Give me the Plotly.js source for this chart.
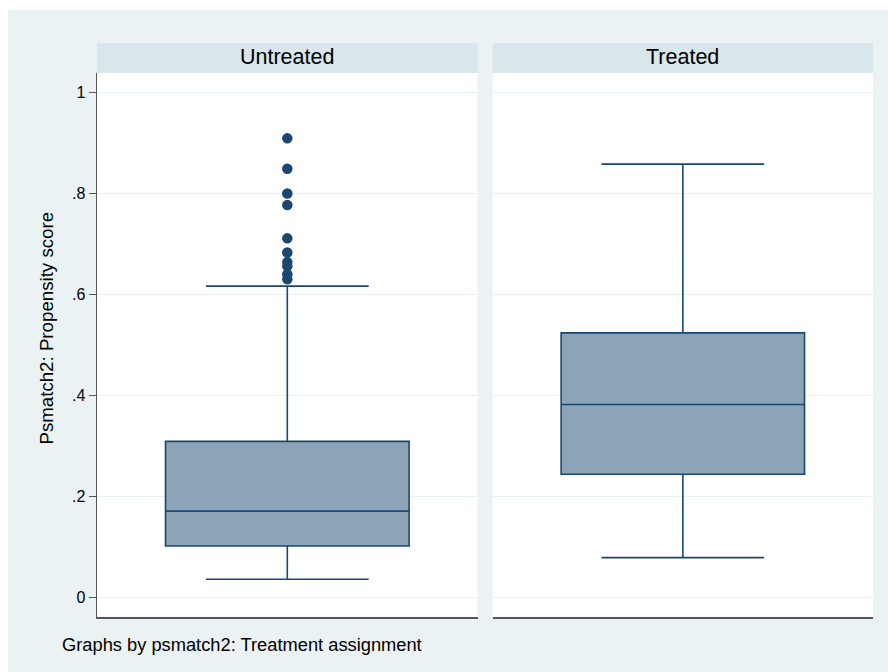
<!DOCTYPE html>
<html>
<head>
<meta charset="utf-8">
<script src="https://cdn.plot.ly/plotly-3.0.1.min.js"></script>
<style>
html, body { margin: 0; padding: 0; background: #ffffff; }
#chart { position: absolute; left: 8px; top: 10px; width: 880px; height: 662px; }
</style>
</head>
<body>
<div id="chart"></div>
<script>
// Data
const groups = ["Untreated", "Treated"];
const q1 = [0.102, 0.244];
const medians = [0.171, 0.382];
const q3 = [0.309, 0.524];
const lowerWhisker = [0.036, 0.079];
const upperWhisker = [0.6165, 0.858];
const untreatedOutliers = [0.909, 0.849, 0.800, 0.777, 0.711, 0.683, 0.664, 0.656, 0.640, 0.630];
const yTickVals = [0, 0.2, 0.4, 0.6, 0.8, 1];
const yTickText = ["0", ".2", ".4", ".6", ".8", "1"];

const navy = "#1A476F";
const boxFill = "#8DA3B8";
const outerBg = "#EAF2F3";
const headerBg = "#D9E6EB";
const gridCol = "#E8F0F3";
const fontFam = "Liberation Sans, Arial, Helvetica, sans-serif";

const traces = [];
groups.forEach((g, i) => {
  const ax = i === 0 ? "" : "2";
  traces.push({
    type: "box",
    x: [g],
    q1: [q1[i]],
    median: [medians[i]],
    q3: [q3[i]],
    lowerfence: [lowerWhisker[i]],
    upperfence: [upperWhisker[i]],
    boxpoints: false,
    width: 0.64,
    whiskerwidth: 0.668,
    fillcolor: boxFill,
    line: { color: navy, width: 1.6 },
    xaxis: "x" + ax,
    yaxis: "y" + ax,
    hoverinfo: "skip",
    showlegend: false
  });
});
traces.push({
  type: "scatter",
  mode: "markers",
  x: untreatedOutliers.map(() => groups[0]),
  y: untreatedOutliers,
  marker: { color: navy, size: 10.5 },
  xaxis: "x",
  yaxis: "y",
  hoverinfo: "skip",
  showlegend: false
});

const yRange = [-0.0386, 1.0384];
const headerTop = 1.0547;

const layout = {
  width: 880,
  height: 662,
  paper_bgcolor: outerBg,
  plot_bgcolor: "#ffffff",
  margin: { l: 88.7, r: 15, t: 62.5, b: 55 },
  font: { family: fontFam, color: "#000000" },
  showlegend: false,
  xaxis: {
    domain: [0, 0.4905],
    range: [-0.5, 0.5],
    type: "category",
    showticklabels: false,
    ticks: "",
    showgrid: false,
    zeroline: false,
    showline: true,
    linecolor: "#555555",
    linewidth: 1.5,
    fixedrange: true
  },
  xaxis2: {
    domain: [0.5099, 1],
    range: [-0.5, 0.5],
    type: "category",
    showticklabels: false,
    ticks: "",
    showgrid: false,
    zeroline: false,
    showline: true,
    linecolor: "#555555",
    linewidth: 1.5,
    anchor: "y2",
    fixedrange: true
  },
  yaxis: {
    range: yRange,
    tickvals: yTickVals,
    ticktext: yTickText,
    ticks: "outside",
    ticklen: 7,
    tickcolor: "#555555",
    tickwidth: 1,
    tickfont: { size: 16, family: fontFam, color: "#000000" },
    showgrid: true,
    gridcolor: gridCol,
    gridwidth: 1,
    zeroline: false,
    showline: true,
    linecolor: "#555555",
    linewidth: 1.5,
    fixedrange: true
  },
  yaxis2: {
    range: yRange,
    tickvals: yTickVals,
    showticklabels: false,
    ticks: "",
    showgrid: true,
    gridcolor: gridCol,
    gridwidth: 1,
    zeroline: false,
    showline: false,
    anchor: "x2",
    fixedrange: true
  },
  shapes: [
    { type: "rect", xref: "paper", yref: "paper", x0: 0, x1: 0.4905, y0: 1, y1: headerTop,
      fillcolor: headerBg, line: { width: 0 }, layer: "below" },
    { type: "rect", xref: "paper", yref: "paper", x0: 0.5099, x1: 1, y0: 1, y1: headerTop,
      fillcolor: headerBg, line: { width: 0 }, layer: "below" }
  ],
  annotations: [
    { text: groups[0], xref: "paper", yref: "paper", x: 0.2452, y: 1.029,
      xanchor: "center", yanchor: "middle", showarrow: false,
      font: { size: 21.5, family: fontFam, color: "#000000" } },
    { text: groups[1], xref: "paper", yref: "paper", x: 0.755, y: 1.029,
      xanchor: "center", yanchor: "middle", showarrow: false,
      font: { size: 21.5, family: fontFam, color: "#000000" } },
    { text: "Psmatch2: Propensity score", xref: "paper", yref: "paper", x: -0.0653, y: 0.5308,
      xanchor: "center", yanchor: "middle", textangle: -90, showarrow: false,
      font: { size: 18.7, family: fontFam, color: "#000000" } },
    { text: "Graphs by psmatch2: Treatment assignment", xref: "paper", yref: "paper",
      x: -0.0482, y: -0.0514, xanchor: "left", yanchor: "middle", showarrow: false,
      font: { size: 18.3, family: fontFam, color: "#000000" } }
  ]
};

Plotly.newPlot("chart", traces, layout, { displayModeBar: false, staticPlot: true });
</script>
</body>
</html>
